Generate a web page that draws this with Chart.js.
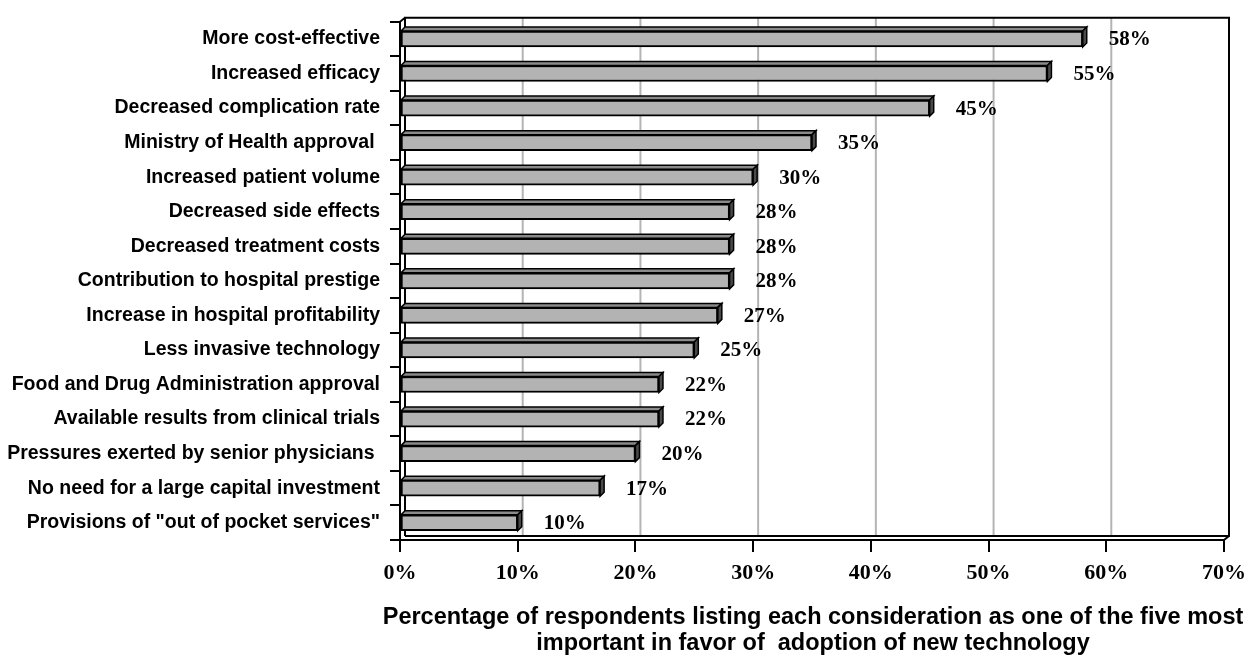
<!DOCTYPE html>
<html>
<head>
<meta charset="utf-8">
<title>Considerations in favor of adopting new technology</title>
<script src="https://cdn.jsdelivr.net/npm/chart.js@4/dist/chart.umd.min.js"></script>
<style>
  html, body { margin: 0; padding: 0; background: #ffffff; }
  #wrap { width: 1258px; height: 658px; position: relative; }
</style>
</head>
<body>
<div id="wrap"><canvas id="chart"></canvas></div>
<script>
// Considerations listed among the five most important, share of respondents (%)
const categories = [
  'More cost-effective',
  'Increased efficacy',
  'Decreased complication rate',
  'Ministry of Health approval ',
  'Increased patient volume',
  'Decreased side effects',
  'Decreased treatment costs',
  'Contribution to hospital prestige',
  'Increase in hospital profitability',
  'Less invasive technology',
  'Food and Drug Administration approval',
  'Available results from clinical trials',
  'Pressures exerted by senior physicians ',
  'No need for a large capital investment',
  'Provisions of "out of pocket services"'
];
const percentages = [58, 55, 45, 35, 30, 28, 28, 28, 27, 25, 22, 22, 20, 17, 10];
const axisMax = 70;
const axisStep = 10;
const axisTitleLines = [
  'Percentage of respondents listing each consideration as one of the five most',
  'important in favor of  adoption of new technology'
];

// depth of the back wall and of each bar, giving the chart its 3-D look
const WALL_DX = 5, WALL_DY = -4;
const BAR_DX = 4, BAR_DY = -4;

const wallsPlugin = {
  id: 'walls3d',
  beforeDatasetsDraw(chart) {
    const { ctx, chartArea: a, scales: { x } } = chart;
    ctx.save();
    // gridlines on the back wall
    ctx.strokeStyle = '#b4b4b4';
    ctx.lineWidth = 2;
    for (let v = axisStep; v < axisMax; v += axisStep) {
      const px = x.getPixelForValue(v) + WALL_DX;
      ctx.beginPath();
      ctx.moveTo(px, a.top + WALL_DY);
      ctx.lineTo(px, a.bottom + WALL_DY);
      ctx.stroke();
    }
    // back wall frame, floor edge and left wall
    ctx.strokeStyle = '#000000';
    ctx.lineWidth = 2;
    ctx.beginPath();
    ctx.moveTo(a.left + WALL_DX, a.bottom + WALL_DY);
    ctx.lineTo(a.left + WALL_DX, a.top + WALL_DY);
    ctx.lineTo(a.right + WALL_DX, a.top + WALL_DY);
    ctx.lineTo(a.right + WALL_DX, a.bottom + WALL_DY);
    ctx.lineTo(a.left + WALL_DX, a.bottom + WALL_DY);
    ctx.stroke();
    ctx.beginPath();
    ctx.moveTo(a.left, a.top);
    ctx.lineTo(a.left + WALL_DX, a.top + WALL_DY);
    ctx.moveTo(a.right, a.bottom);
    ctx.lineTo(a.right + WALL_DX, a.bottom + WALL_DY);
    ctx.stroke();

    // top and end faces of every bar
    const meta = chart.getDatasetMeta(0);
    meta.data.forEach((bar) => {
      const { x: end, y, base, height } = bar.getProps(['x', 'y', 'base', 'height'], true);
      const top = y - height / 2;
      const bottom = y + height / 2;
      ctx.lineWidth = 1.5;
      ctx.strokeStyle = '#000000';
      ctx.fillStyle = '#8a8a8a';
      ctx.beginPath();
      ctx.moveTo(base, top);
      ctx.lineTo(base + BAR_DX, top + BAR_DY);
      ctx.lineTo(end + BAR_DX, top + BAR_DY);
      ctx.lineTo(end, top);
      ctx.closePath();
      ctx.fill();
      ctx.stroke();
      ctx.fillStyle = '#4a4a4a';
      ctx.beginPath();
      ctx.moveTo(end, top);
      ctx.lineTo(end + BAR_DX, top + BAR_DY);
      ctx.lineTo(end + BAR_DX, bottom + BAR_DY);
      ctx.lineTo(end, bottom);
      ctx.closePath();
      ctx.fill();
      ctx.stroke();
    });
    ctx.restore();
  },
  afterDatasetsDraw(chart) {
    // value labels to the right of each bar
    const { ctx } = chart;
    const meta = chart.getDatasetMeta(0);
    ctx.save();
    ctx.font = 'bold 21px "Liberation Serif", "Times New Roman", serif';
    ctx.fillStyle = '#000000';
    ctx.textAlign = 'left';
    ctx.textBaseline = 'middle';
    meta.data.forEach((bar, i) => {
      ctx.fillText(percentages[i] + '%', bar.x + 26, bar.y + 1);
    });
    ctx.restore();
  },
  afterDraw(chart) {
    // two-line axis title under the percentage scale, allowed to run wider than the plot
    const { ctx, scales: { x } } = chart;
    const cx = (x.left + x.right) / 2 + 1;
    ctx.save();
    ctx.font = 'bold 23.5px "Liberation Sans", Arial, sans-serif';
    ctx.fillStyle = '#000000';
    ctx.textAlign = 'center';
    ctx.textBaseline = 'alphabetic';
    const lineGap = 26;
    const firstBaseline = x.bottom - 34;
    axisTitleLines.forEach((line, i) => {
      ctx.fillText(line, cx, firstBaseline + i * lineGap);
    });
    ctx.restore();
  }
};

new Chart(document.getElementById('chart'), {
  type: 'bar',
  data: {
    labels: categories,
    datasets: [{
      data: percentages,
      backgroundColor: '#b3b3b3',
      borderColor: '#000000',
      borderWidth: 2,
      borderSkipped: false,
      barThickness: 16
    }]
  },
  options: {
    indexAxis: 'y',
    responsive: true,
    maintainAspectRatio: false,
    animation: false,
    layout: { padding: { top: 16, right: 34, bottom: 0, left: 0 } },
    plugins: {
      legend: { display: false },
      tooltip: { enabled: false }
    },
    scales: {
      x: {
        min: 0,
        max: axisMax,
        afterFit(scale) { scale.height = 118; },
        ticks: {
          stepSize: axisStep,
          color: '#000000',
          padding: 8,
          font: { family: '"Liberation Serif", "Times New Roman", serif', size: 22, weight: 'bold' },
          callback: (v) => v + '%'
        },
        grid: {
          drawOnChartArea: false,
          drawTicks: true,
          tickLength: 12,
          color: '#000000',
          lineWidth: 2
        },
        border: { display: true, color: '#000000', width: 2 },
        title: { display: false }
      },
      y: {
        afterFit(scale) { scale.width = 400; },
        ticks: {
          color: '#000000',
          padding: 10,
          autoSkip: false,
          font: { family: '"Liberation Sans", Arial, sans-serif', size: 19.5, weight: 'bold' }
        },
        grid: {
          drawOnChartArea: false,
          drawTicks: true,
          tickLength: 10,
          color: '#000000',
          lineWidth: 2
        },
        border: { display: true, color: '#000000', width: 2 }
      }
    }
  },
  plugins: [wallsPlugin]
});
</script>
</body>
</html>
